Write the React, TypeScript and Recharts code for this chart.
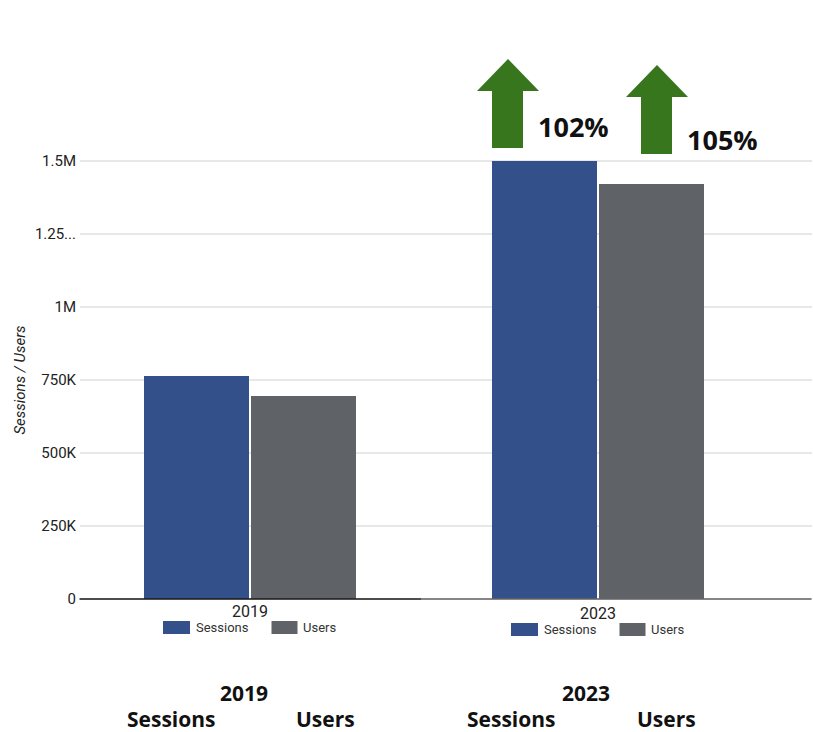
import React from "react";
import { BarChart, Bar, XAxis, YAxis, CartesianGrid, LabelList } from "recharts";

const categories = ["2019", "2023"];
const sessions = [764000, 1500000];
const users = [695000, 1421000];
const yTicks = [0, 250000, 500000, 750000, 1000000, 1250000, 1500000];
const yTickLabels = ["0", "250K", "500K", "750K", "1M", "1.25...", "1.5M"];
const growthLabels = ["102%", "105%"];
const seriesNames = ["Sessions", "Users"];

const data = categories.map((c, i) => ({ year: c, sessions: sessions[i], users: users[i] }));

const BLUE = "#33508b";
const GREY = "#5f6368";
const GREEN = "#38761d";

const Arrow = ({ sl, b }: { sl: number; b: number }) => (
  <polygon
    fill={GREEN}
    points={`${sl + 16},${b - 89} ${sl - 15},${b - 57} ${sl},${b - 57} ${sl},${b} ${sl + 31},${b} ${sl + 31},${b - 57} ${sl + 47},${b - 57}`}
  />
);

const sessionsArrow = (props: any) => {
  const { x, y, index } = props;
  if (index !== 1) return null;
  const sl = Number(x);
  const b = Number(y) - 13;
  return (
    <g>
      <Arrow sl={sl} b={b} />
      <text x={sl + 46} y={Number(y) - 24} fontFamily="Open Sans" fontWeight={700} fontSize={27} fill="#111">
        {growthLabels[0]}
      </text>
    </g>
  );
};

const usersArrow = (props: any) => {
  const { x, y, index } = props;
  if (index !== 1) return null;
  const sl = Number(x) + 42;
  const b = Number(y) - 30;
  return (
    <g>
      <Arrow sl={sl} b={b} />
      <text x={Number(x) + 88} y={Number(y) - 34} fontFamily="Open Sans" fontWeight={700} fontSize={27} fill="#111">
        {growthLabels[1]}
      </text>
    </g>
  );
};

const CategoryTick = (props: any) => {
  const { x, y, payload, index } = props;
  const d = index === 1 ? 2 : 0;
  const lineFrom = index === 0 ? x - 170.5 : x - 176.5;
  const lineTo = index === 0 ? x + 171.5 : x + 213.5;
  return (
    <g fontFamily="Roboto">
      <line x1={lineFrom} x2={lineTo} y1={y} y2={y} stroke={index === 0 ? "#1a1a1a" : "#666"} strokeWidth={1.6} />
      <text x={x} y={y + 18 + d} textAnchor="middle" fontSize={16} fill="#222">
        {payload.value}
      </text>
      <rect x={x - 87} y={y + 22 + d} width={27} height={13} fill={BLUE} />
      <text x={x - 54} y={y + 33 + d} fontSize={13} fill="#333">
        {seriesNames[0]}
      </text>
      <rect x={x + 21.5} y={y + 22 + d} width={26} height={13} fill={GREY} />
      <text x={x + 53} y={y + 33 + d} fontSize={13} fill="#333">
        {seriesNames[1]}
      </text>
    </g>
  );
};

const YLabel = (props: any) => {
  const vb = props.viewBox || {};
  const cx = 20;
  const cy = vb.y + vb.height / 2;
  return (
    <text
      x={cx}
      y={cy}
      transform={`rotate(-90 ${cx} ${cy})`}
      textAnchor="middle"
      dominantBaseline="central"
      fontFamily="Roboto"
      fontStyle="italic"
      fontSize={15}
      fill="#222"
    >
      Sessions / Users
    </text>
  );
};

export default function App() {
  return (
    <div
      style={{
        position: "fixed",
        left: 0,
        top: 0,
        width: 813,
        height: 732,
        overflow: "hidden",
        background: "#fff",
      }}
    >
      <BarChart
        width={813}
        height={732}
        data={data}
        margin={{ top: 161, right: 1, left: 0, bottom: 73 }}
        barSize={105}
        barGap={2}
      >
        <CartesianGrid horizontal vertical={false} stroke="#d0d0d0" />
        <XAxis
          dataKey="year"
          height={60}
          axisLine={false}
          tickLine={false}
          tickSize={0}
          tickMargin={0}
          padding={{ left: -4, right: 40 }}
          tick={<CategoryTick />}
          interval={0}
        />
        <YAxis
          width={80}
          domain={[0, 1500000]}
          ticks={yTicks}
          axisLine={false}
          tickLine={false}
          tickSize={2}
          tickMargin={2}
          tickFormatter={(v: number) => yTickLabels[yTicks.indexOf(v)] ?? String(v)}
          tick={{ fontFamily: "Roboto", fontSize: 15, fill: "#222" }}
          label={<YLabel />}
        />
        <Bar dataKey="sessions" name={seriesNames[0]} fill={BLUE} isAnimationActive={false}>
          <LabelList dataKey="sessions" content={sessionsArrow} />
        </Bar>
        <Bar dataKey="users" name={seriesNames[1]} fill={GREY} isAnimationActive={false}>
          <LabelList dataKey="users" content={usersArrow} />
        </Bar>
      </BarChart>
      <svg width={813} height={732} style={{ position: "absolute", left: 0, top: 0, pointerEvents: "none" }}>
        <g fontFamily="Open Sans" fontWeight={700} fontSize={21} fill="#111">
          <text x={244} y={701} textAnchor="middle">{categories[0]}</text>
          <text x={127} y={727}>{seriesNames[0]}</text>
          <text x={296} y={727}>{seriesNames[1]}</text>
          <text x={586} y={701} textAnchor="middle">{categories[1]}</text>
          <text x={467} y={727}>{seriesNames[0]}</text>
          <text x={637} y={727}>{seriesNames[1]}</text>
        </g>
      </svg>
    </div>
  );
}
